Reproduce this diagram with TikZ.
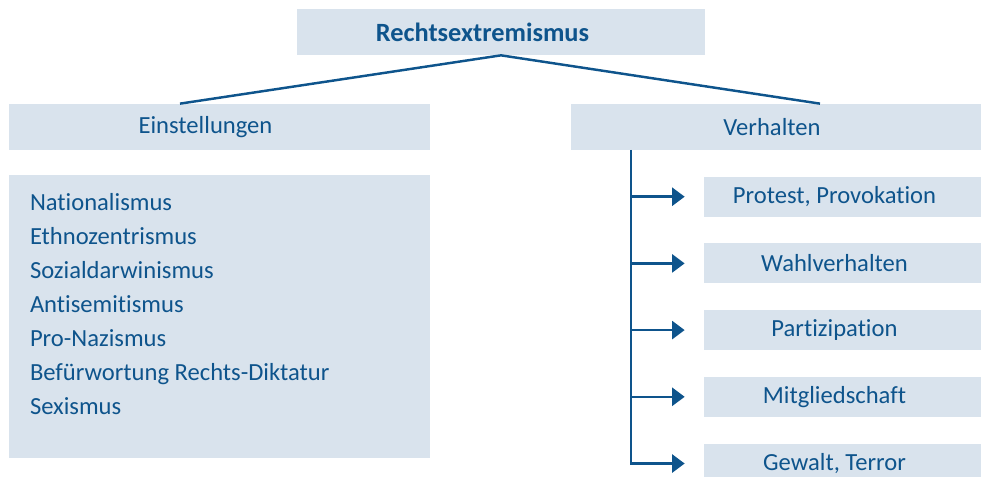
\documentclass[tikz,border=0pt]{standalone}
\usepackage{fontspec}
\setmainfont[Ligatures=NoCommon]{Carlito}
\usepackage{xcolor}
\usetikzlibrary{arrows.meta, positioning}
\definecolor{rexblue}{RGB}{14,84,140}
\definecolor{rexfill}{RGB}{217,227,237}

\begin{document}
\begin{tikzpicture}[
    node distance=0.52cm and 0.45cm,
    head/.style={
        rectangle,
        fill=rexfill,
        text=rexblue,
        align=center,
        minimum height=0.92cm,
        inner sep=0pt,
        font=\fontsize{14}{16}\selectfont
    },
    item/.style={
        rectangle,
        fill=rexfill,
        text=rexblue,
        align=center,
        minimum width=5.54cm,
        minimum height=0.8cm,
        inner sep=0pt,
        font=\fontsize{14}{16}\selectfont,
        execute at begin node={\hspace*{-0.32cm}}
    },
    conn/.style={line width=1.4pt, color=rexblue},
    arrow/.style={-{Triangle[length=0.25cm, width=0.36cm]}, line width=1.4pt, color=rexblue}
]
\useasboundingbox (0,0) rectangle (19.62,-9.54);

% top
\node[head, minimum width=8.16cm, font=\fontsize{15}{17}\selectfont\bfseries] (rex) at (10.02,-0.64) {\hspace*{-0.74cm}Rechtsextremismus};

% two branches
\node[head, minimum width=8.42cm] (einst) at (4.39,-2.54) {\hspace*{-0.56cm}Einstellungen};
\node[head, minimum width=8.2cm] (verh) at (15.52,-2.54) {\hspace*{-0.16cm}Verhalten};
\draw[conn] (rex.south) -- ([xshift=-0.79cm]einst.north);
\draw[conn] (rex.south) -- ([xshift=0.88cm]verh.north);

% Einstellungen list
\node[rectangle, fill=rexfill, minimum width=8.42cm, minimum height=5.66cm, inner sep=0pt,
      below=0.48cm of einst] (liste) {};
\node[anchor=north west, text=rexblue, align=left, inner sep=0pt,
      font=\fontsize{14}{19.35}\selectfont] (listtxt) at ([xshift=0.42cm, yshift=-0.38cm]liste.north west)
    {Nationalismus\\Ethnozentrismus\\Sozialdarwinismus\\Antisemitismus\\Pro-Nazismus\\Befürwortung Rechts-Diktatur\\Sexismus};

% Verhalten items
\node[item, below=0.52cm of verh.south east, anchor=north east] (p1) {Protest, Provokation};
\node[item, below=of p1] (p2) {Wahlverhalten};
\node[item, below=of p2] (p3) {Partizipation};
\node[item, below=of p3] (p4) {Mitgliedschaft};
\node[item, below=of p4] (p5) {Gewalt, Terror};

\coordinate (trunk) at (12.62,-3.0);
\draw[arrow] (trunk) |- ([xshift=-0.38cm]p5.west);
\draw[arrow] (trunk |- p1) -- ([xshift=-0.38cm]p1.west);
\draw[arrow] (trunk |- p2) -- ([xshift=-0.38cm]p2.west);
\draw[arrow] (trunk |- p3) -- ([xshift=-0.38cm]p3.west);
\draw[arrow] (trunk |- p4) -- ([xshift=-0.38cm]p4.west);

\end{tikzpicture}
\end{document}
